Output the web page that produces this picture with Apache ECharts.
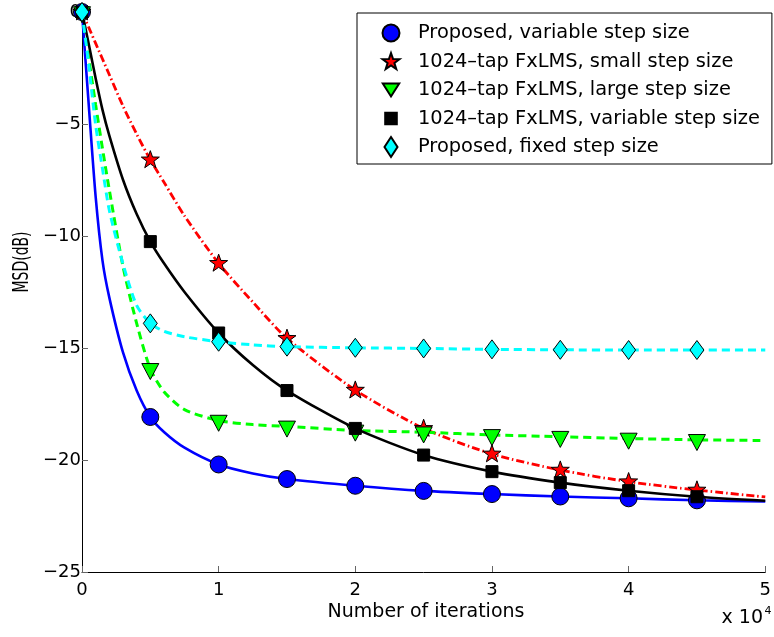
<!DOCTYPE html>
<html>
<head>
<meta charset="utf-8">
<script src="https://cdn.jsdelivr.net/npm/echarts@6/dist/echarts.min.js"></script>
<style>
html,body{margin:0;padding:0;background:#fff;}
#chart{width:774px;height:637px;}
</style>
</head>
<body>
<div id="chart"></div>
<script>
// ---- data (x in units of 10^4 iterations, MSD in dB) ----
var xCurve = [0,0.05,0.1,0.15,0.2,0.3,0.4,0.5,0.6,0.75,1,1.25,1.5,2,2.5,3,3.5,4,4.5,5];
var blueCurve  = [0,-4.2,-8.25,-11.1,-12.75,-15.2,-16.9,-18.08,-18.75,-19.45,-20.2,-20.6,-20.85,-21.15,-21.38,-21.52,-21.63,-21.71,-21.8,-21.85];
var redCurve   = [0,-0.7,-1.4,-2.1,-2.8,-4.2,-5.45,-6.6,-7.6,-9.1,-11.22,-12.95,-14.57,-16.88,-18.59,-19.73,-20.45,-20.97,-21.34,-21.65];
var greenCurve = [0,-2.1,-4.15,-6.1,-7.95,-11.36,-13.9,-15.93,-16.95,-17.75,-18.24,-18.42,-18.5,-18.68,-18.76,-18.88,-18.96,-19.04,-19.1,-19.13];
var blackCurve = [0,-1.45,-2.97,-4.37,-5.52,-7.49,-9.02,-10.25,-11.22,-12.5,-14.33,-15.76,-16.9,-18.59,-19.78,-20.52,-21.01,-21.37,-21.64,-21.82];
var cyanCurve  = [0,-2.4,-5.05,-7.0,-8.85,-11.25,-13.1,-13.9,-14.25,-14.5,-14.72,-14.86,-14.94,-14.99,-15.02,-15.06,-15.08,-15.09,-15.09,-15.09];

var xMarks = [0,0.5,1,1.5,2,2.5,3,3.5,4,4.5];
var blueMarks  = [0,-18.08,-20.2,-20.85,-21.15,-21.38,-21.52,-21.63,-21.71,-21.8];
var redMarks   = [0,-6.6,-11.22,-14.57,-16.88,-18.59,-19.73,-20.45,-20.97,-21.34];
var greenMarks = [0,-15.93,-18.24,-18.5,-18.68,-18.76,-18.88,-18.96,-19.04,-19.1];
var blackMarks = [0,-10.25,-14.33,-16.9,-18.59,-19.78,-20.52,-21.01,-21.37,-21.64];
var cyanMarks  = [0,-13.9,-14.72,-14.94,-14.99,-15.02,-15.06,-15.08,-15.09,-15.09];

var seriesNames = [
  'Proposed, variable step size',
  '1024–tap FxLMS, small step size',
  '1024–tap FxLMS, large step size',
  '1024–tap FxLMS, variable step size',
  'Proposed, fixed step size'
];
var xTicks = [0,1,2,3,4,5];
var yTicks = [-25,-20,-15,-10,-5,0];

// ---- styling ----
var FONT = 'DejaVu Sans';
var SYM = {
  circle: 'path://M0,0M20,20M18.5,10A8.5,8.5,0,1,1,1.5,10A8.5,8.5,0,1,1,18.5,10Z',
  star: 'path://M0,0M20,20M10,0.8L12.23,7.13L19.03,7.26L13.61,11.37L15.58,17.89L10,14L4.42,17.89L6.39,11.37L0.97,7.26L7.77,7.13Z',
  tri: 'path://M0,0M24,24M3.5,6.7L20.5,6.7L12,22.7Z',
  square: 'path://M0,0M20,20M4,4L16,4L16,16L4,16Z',
  diamond: 'path://M0,0M20,20M10,0.5L17,10L10,19.5L3,10Z'
};
var LEG_ICON = {
  circle: 'path://M0,0M20,20M18.5,10A8.5,8.5,0,1,1,1.5,10A8.5,8.5,0,1,1,18.5,10Z',
  star: 'path://M0,0M20,20M10,1.5L12.1,7.5L18.5,7.6L13.4,11.5L15.3,17.6L10,14L4.7,17.6L6.6,11.5L1.5,7.6L7.9,7.5Z',
  tri: 'path://M0,0M20,20M1.8,3.5L18.2,3.5L10,16.5Z',
  square: 'path://M0,0M20,20M4.2,4.2L15.8,4.2L15.8,15.8L4.2,15.8Z',
  diamond: 'path://M0,0M20,20M10,0L16.5,10L10,20L3.5,10Z'
};
var specs = [
  {color:'#0000ff', curve: blueCurve,  marks: blueMarks,  sym:'circle',  size:20, lineType:'solid', width:2.6},
  {color:'#ff0000', curve: redCurve,   marks: redMarks,   sym:'star',    size:20, lineType:[8,3,1.5,3], width:2.8},
  {color:'#00ff00', curve: greenCurve, marks: greenMarks, sym:'tri',     size:24, lineType:[8,5], width:3},
  {color:'#000000', curve: blackCurve, marks: blackMarks, sym:'square',  size:20, lineType:'solid', width:2.6},
  {color:'#00ffff', curve: cyanCurve,  marks: cyanMarks,  sym:'diamond', size:20, lineType:[8,5], width:3}
];

function pairs(xs, ys){ return xs.map(function(x,i){ return [x, ys[i]]; }); }

var series = [];
specs.forEach(function(s, i){
  series.push({
    type:'line', name:'curve'+i, data: pairs(xCurve, s.curve),
    showSymbol:false, smooth:0.25,
    lineStyle:{color:s.color, width:s.width, type:s.lineType},
    itemStyle:{color:s.color},
    z: 2 + i*2, animation:false, silent:true
  });
});
specs.forEach(function(s, i){
  series.push({
    type:'scatter', name: seriesNames[i], data: pairs(xMarks, s.marks),
    symbol: SYM[s.sym], symbolSize: s.size,
    itemStyle:{color:s.color, borderColor:'#000', borderWidth:1, opacity:1},
    z: 3 + i*2, animation:false
  });
});

var chart = echarts.init(document.getElementById('chart'), null, {renderer:'canvas'});
chart.setOption({
  backgroundColor:'#ffffff',
  animation:false,
  grid:{left:82, right:5.5, top:12, bottom:65, containLabel:false},
  xAxis:{
    type:'value', min:xTicks[0], max:xTicks[xTicks.length-1], interval:1,
    axisLine:{show:true, onZero:false, lineStyle:{color:'#000', width:1}},
    axisTick:{show:true, inside:true, length:6, lineStyle:{color:'#666'}},
    axisLabel:{color:'#000', fontFamily:FONT, fontSize:18, margin:9},
    splitLine:{show:false}
  },
  yAxis:{
    type:'value', min:yTicks[0], max:yTicks[yTicks.length-1], interval:5,
    axisLine:{show:true, onZero:false, lineStyle:{color:'#000', width:1}},
    axisTick:{show:true, inside:true, length:6, lineStyle:{color:'#666'}},
    axisLabel:{color:'#000', fontFamily:FONT, fontSize:18, margin:1,
      formatter:function(v){ return String(v).replace('-', '\u2212'); }},
    splitLine:{show:false}
  },
  legend:{
    orient:'vertical', left:357, top:13,
    padding:[9,12,6,23],
    itemWidth:20, itemHeight:20, itemGap:6.5,
    backgroundColor:'#fff', borderColor:'#000', borderWidth:1, borderRadius:0,
    textStyle:{color:'#000', fontFamily:FONT, fontSize:19.4, lineHeight:20, padding:[0,0,0,12]},
    data: seriesNames.map(function(n,i){ return {name:n, icon: LEG_ICON[specs[i].sym]}; }),
    selectedMode:false
  },
  graphic:[
    {type:'text', x:23, y:262, rotation:Math.PI/2, scaleY:1.45,
      style:{text:'MSD(dB)', fill:'#000', fontFamily:FONT, fontSize:14, align:'center', verticalAlign:'middle'}},
    {type:'text', x:426, y:612,
      style:{text:'Number of iterations', fill:'#000', fontFamily:FONT, fontSize:19, align:'center', verticalAlign:'middle'}},
    {type:'text', x:763, y:618,
      style:{text:'x 10', fill:'#000', fontFamily:FONT, fontSize:19, align:'right', verticalAlign:'middle'}},
    {type:'text', x:764.5, y:611,
      style:{text:'4', fill:'#000', fontFamily:FONT, fontSize:11, align:'left', verticalAlign:'middle'}}
  ],
  series: series
});
</script>
</body>
</html>
